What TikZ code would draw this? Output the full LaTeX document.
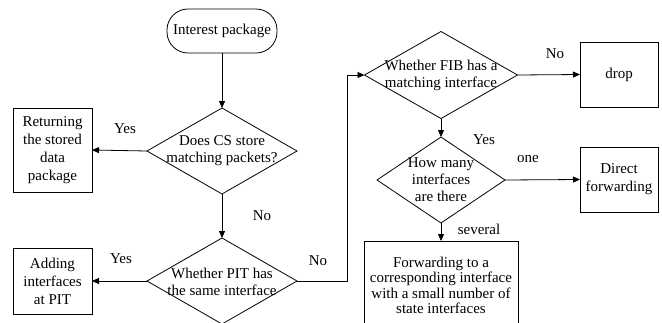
\documentclass[tikz,border=0pt]{standalone}
\usepackage{fontspec}
\setmainfont{Liberation Serif}
\usetikzlibrary{shapes.geometric,arrows.meta}

\begin{document}
\begin{tikzpicture}[x=1pt,y=-1pt,
  every node/.style={font=\fontsize{15}{17}\selectfont},
  box/.style={draw, line width=0.8pt, rectangle, inner sep=0pt, outer sep=0pt, align=center},
  dia/.style={draw, line width=0.8pt, diamond, inner sep=0pt, outer sep=0pt},
  txt/.style={align=center, inner sep=0pt},
  flow/.style={draw, line width=0.8pt, -{Triangle[length=7pt,width=6pt]}},
  lbl/.style={inner sep=0pt}]
\useasboundingbox (0,0) rectangle (662,322);

% start terminal
\node[box, rounded corners=21pt, minimum width=110pt, minimum height=44pt] (start) at (222,31) {Interest package};

% decisions
\node[dia, minimum width=150pt, minimum height=86pt] (cs) at (222,151) {};
\node[txt] (cst) at (222,151) {Does CS store\\matching packets?};
\node[dia, minimum width=150pt, minimum height=86pt] (pit) at (222,281) {};
\node[txt] (pitt) at (222,282) {Whether PIT has\\the same interface};
\node[dia, minimum width=153pt, minimum height=87pt] (fib) at (441,75) {};
\node[txt] (fibt) at (441,75) {Whether FIB has a\\matching interface};
\node[dia, minimum width=128pt, minimum height=86pt] (many) at (441,180) {};
\node[txt] (manyt) at (441,180) {How many\\interfaces\\are there};

% actions
\node[box, minimum width=79pt, minimum height=84pt, font=\fontsize{15}{18}\selectfont] (ret) at (52.5,150) {Returning\\the stored\\data\\package};
\node[box, minimum width=79pt, minimum height=66pt, font=\fontsize{15}{18}\selectfont] (add) at (52.5,281) {Adding\\interfaces\\at PIT};
\node[box, minimum width=78pt, minimum height=65pt] (drop) at (619,74.5) {drop};
\node[box, minimum width=78pt, minimum height=65pt, font=\fontsize{15}{18}\selectfont] (direct) at (619,179.5) {Direct\\forwarding};
\node[box, minimum width=154pt, minimum height=89pt, font=\fontsize{15}{15.5}\selectfont] (fwd) at (441,285.5) {Forwarding to a\\corresponding interface\\with a small number of\\state interfaces};

% connectors
\draw[flow] (start.south) -- (cs.north);
\draw[flow] (cs.west) -- (ret.east);
\draw[flow] (cs.south) -- (pit.north);
\draw[flow] (pit.west) -- (add.east);
\draw[flow] (pit.east) -- ++(50,0) |- (fib.west);
\draw[flow] (fib.east) -- (drop.west);
\draw[flow] (fib.south) -- (many.north);
\draw[flow] (many.east) -- (direct.west);
\draw[flow] (many.south) -- (fwd.north);

% branch labels
\node[lbl] (l1) at (125,129) {Yes};
\node[lbl] (l2) at (262,216) {No};
\node[lbl] (l3) at (121,259) {Yes};
\node[lbl] (l4) at (318,261) {No};
\node[lbl] (l5) at (555,54) {No};
\node[lbl] (l6) at (484,140) {Yes};
\node[lbl] (l7) at (528,159) {one};
\node[lbl] (l8) at (479,229) {several};
\end{tikzpicture}
\end{document}
